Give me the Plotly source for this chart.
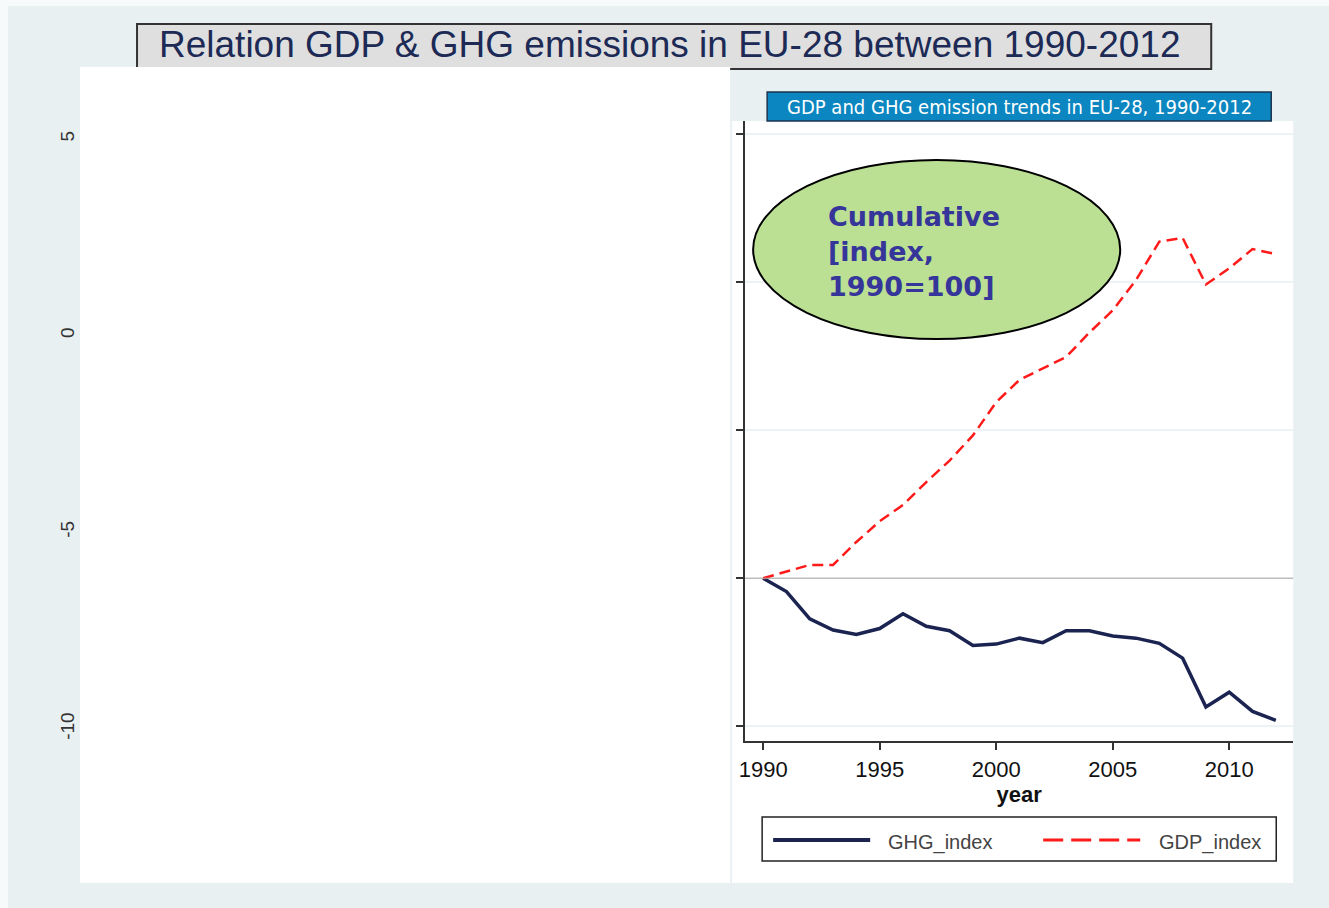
import plotly.graph_objects as go

# ---------------- data ----------------
years = list(range(1990, 2013))
ghg_index = [100.0, 98.2, 94.5, 93.0, 92.4, 93.2, 95.2, 93.5, 92.9, 90.9, 91.1, 91.9,
             91.3, 92.9, 92.9, 92.2, 91.9, 91.2, 89.2, 82.6, 84.6, 82.0, 80.8]
gdp_index = [100.0, 100.9, 101.8, 101.8, 104.9, 107.7, 109.9, 113.0, 115.9, 119.3, 123.8, 126.8,
             128.3, 129.9, 133.2, 136.2, 140.3, 145.5, 146.0, 139.7, 141.9, 144.5, 143.8]
x_ticks = [1990, 1995, 2000, 2005, 2010]
y_ticks = [80, 100, 120, 140, 160]
left_ticks = [5, 0, -5, -10]
left_tick_labels = ["5", "0", "-5", "-10"]
base_index = 100
series_names = ["GHG_index", "GDP_index"]

main_title = "Relation GDP &amp; GHG emissions in EU-28 between 1990-2012"
sub_title = "GDP and GHG emission trends in EU-28, 1990-2012"
bubble_text = "Cumulative<br>[index,<br>1990=100]"

# ---------------- geometry helpers (screen px -> paper) ----------------
W, H = 1329, 908
X_SHIFT, X_SCALE = 6.0, 0.9953   # small horizontal calibration of the capture


def px(sx):
    return ((sx - X_SHIFT) / X_SCALE) / W


def py(sy):
    return 1 - sy / H


NAVY = "#1b2451"
RED = "#ff1a1a"
BG = "#e8f0f2"
SANS = "Liberation Sans, Arial, sans-serif"
NARROW = "Liberation Sans Narrow, Arial Narrow, DejaVu Sans Condensed, sans-serif"

fig = go.Figure()
fig.add_trace(go.Scatter(x=years, y=ghg_index, mode="lines", name=series_names[0],
                         line=dict(color=NAVY, width=3.5), showlegend=False))
fig.add_trace(go.Scatter(x=years, y=gdp_index, mode="lines", name=series_names[1],
                         line=dict(color=RED, width=2.5, dash="11px,6px"), showlegend=False))
# dummy trace so that the left (secondary) axis is rendered
fig.add_trace(go.Scatter(x=[], y=[], yaxis="y2", showlegend=False, hoverinfo="skip"))

shapes = []
# slide background (light frame left/top stays white)
shapes.append(dict(type="rect", xref="paper", yref="paper", x0=px(8), x1=1, y0=0, y1=py(6),
                   fillcolor=BG, line=dict(width=0), layer="below"))
# title box
shapes.append(dict(type="rect", xref="paper", yref="paper", x0=px(137), x1=px(1211), y0=py(69), y1=py(24),
                   fillcolor="#dfdfdf", line=dict(color="#333333", width=2), layer="below"))
# left white panel
shapes.append(dict(type="rect", xref="paper", yref="paper", x0=px(80), x1=px(730), y0=py(883), y1=py(67),
                   fillcolor="white", line=dict(width=0), layer="below"))
# right white panel
shapes.append(dict(type="rect", xref="paper", yref="paper", x0=px(732), x1=px(1293), y0=py(883), y1=py(121),
                   fillcolor="white", line=dict(width=0), layer="below"))
# subtitle box
shapes.append(dict(type="rect", xref="paper", yref="paper", x0=px(767), x1=px(1271), y0=py(121), y1=py(92),
                   fillcolor="#0b86c0", line=dict(color="#1b3550", width=1.5), layer="below"))
# reference line at base index
shapes.append(dict(type="line", xref="x domain", yref="y", x0=0, x1=1, y0=base_index, y1=base_index,
                   line=dict(color="#a9a9a9", width=1.2), layer="above"))
# ellipse
shapes.append(dict(type="circle", xref="paper", yref="paper", x0=px(753), x1=px(1120), y0=py(339), y1=py(160),
                   fillcolor="#bbe093", line=dict(color="black", width=2), layer="above"))
# legend box
shapes.append(dict(type="rect", xref="paper", yref="paper", x0=px(762), x1=px(1276), y0=py(861), y1=py(817),
                   fillcolor="white", line=dict(color="#222222", width=1.5), layer="above"))
# legend samples
shapes.append(dict(type="line", xref="paper", yref="paper", x0=px(773), x1=px(870), y0=py(840), y1=py(840),
                   line=dict(color=NAVY, width=4), layer="above"))
shapes.append(dict(type="line", xref="paper", yref="paper", x0=px(1043), x1=px(1140), y0=py(840), y1=py(840),
                   line=dict(color=RED, width=3, dash="20px,8px"), layer="above"))

annotations = [
    dict(text=main_title, xref="paper", yref="paper", x=px(669), y=py(44), xanchor="center", yanchor="middle",
         showarrow=False, font=dict(family=SANS, size=37, color="#1c2a55")),
    dict(text=sub_title, xref="paper", yref="paper", x=px(1019), y=py(106.5), xanchor="center", yanchor="middle",
         showarrow=False, font=dict(family=NARROW, size=20, color="white")),
    dict(text=bubble_text, xref="paper", yref="paper", x=px(826), y=py(252), xanchor="left", yanchor="middle",
         align="left", showarrow=False, font=dict(family="DejaVu Sans, Verdana, sans-serif", size=27,
                                                   color="#35359a", weight="bold")),
    dict(text=series_names[0], xref="paper", yref="paper", x=px(886), y=py(842), xanchor="left", yanchor="middle",
         showarrow=False, font=dict(family=SANS, size=20, color="#444444")),
    dict(text=series_names[1], xref="paper", yref="paper", x=px(1157), y=py(842), xanchor="left", yanchor="middle",
         showarrow=False, font=dict(family=SANS, size=20, color="#444444")),
]

fig.update_layout(
    width=W, height=H,
    margin=dict(l=0, r=0, t=0, b=0),
    paper_bgcolor="#f7fafb",
    plot_bgcolor="rgba(0,0,0,0)",
    shapes=shapes,
    annotations=annotations,
    showlegend=False,
    xaxis=dict(domain=[px(745), px(1293)], range=[1989.227, 2012.747], tickvals=x_ticks,
               ticks="outside", ticklen=7, tickwidth=1.5, tickcolor="#333333",
               showline=True, linecolor="#333333", linewidth=1.5, showgrid=False, zeroline=False,
               tickfont=dict(family=SANS, size=22, color="#111111"), ticklabelstandoff=1,
               title=dict(text="year", standoff=0, font=dict(family=SANS, size=22, color="#111111", weight="bold"))),
    yaxis=dict(domain=[py(741), py(121)], range=[78.0, 161.8], tickvals=y_ticks,
               ticks="outside", ticklen=7, tickwidth=1.5, tickcolor="#333333", showticklabels=False,
               showline=True, linecolor="#333333", linewidth=1.5, showgrid=True, gridcolor="#edf2f4",
               gridwidth=1.5, zeroline=False),
    yaxis2=dict(overlaying="y", anchor="free", position=px(78), side="left",
                range=[-10.307, 5.456], tickvals=left_ticks, ticktext=left_tick_labels, tickangle=-90,
                ticks="", showline=False, showgrid=False, zeroline=False,
                tickfont=dict(family=SANS, size=19, color="#333333")),
)

fig.write_html("out.html", config={"displayModeBar": False},
               post_script="document.body.style.margin='0px';"
                           "document.documentElement.style.overflow='hidden';"
                           "document.body.style.overflow='hidden';")
